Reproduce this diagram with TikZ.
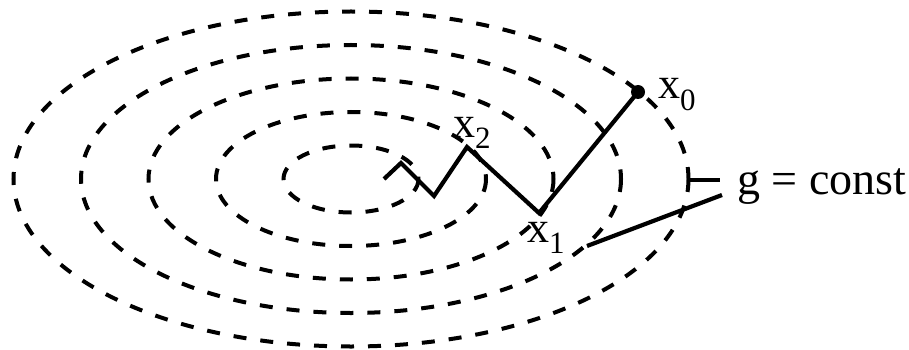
\documentclass[tikz,border=0pt]{standalone}
\usepackage{fontspec}
\setmainfont{Liberation Serif}
\begin{document}
\begin{tikzpicture}[x=1pt, y=-1pt,
        contour/.style={line width=4pt, dash pattern=on 13pt off 14pt},
        walk/.style={line width=4.2pt, line join=miter},
        lbl/.style={inner sep=0pt, anchor=base west, font=\fontsize{44}{48}\selectfont}]
    \useasboundingbox (0,0) rectangle (909,350);

    % Level sets of g
    \foreach \k in {1,...,5}
        \draw[contour] (351,179) ellipse ({67.5*\k} and {33.5*\k});

    % Steepest descent walk
    \coordinate (x0) at (638,92);
    \coordinate (x1) at (539,213);
    \coordinate (x2) at (467,147);
    \coordinate (p3) at (434,196);
    \coordinate (p4) at (401,163);
    \coordinate (p5) at (384,179);
    \draw[walk] (p5) -- (p4) -- (p3) -- (x2) -- (x1) -- (x0);
    \fill (x0) circle (7);

    \node[lbl] (l0) at ([shift={(20,7)}]x0) {x\raisebox{-0.27em}{\fontsize{31}{31}\selectfont 0}};
    \node[lbl] (l1) at ([shift={(-12,29)}]x1) {x\raisebox{-0.25em}{\fontsize{31}{31}\selectfont 1}};
    \node[lbl] (l2) at ([shift={(-14,-10)}]x2) {x\raisebox{-0.25em}{\fontsize{31}{31}\selectfont 2}};

    % Label for the contours
    \coordinate (c5) at (688.5,180);
    \coordinate (c4) at (587,246);
    \node[lbl, font=\fontsize{46}{50}\selectfont] (g) at (737,194) {g = const};
    \draw[walk] (c5) -- ([shift={(-17,-14)}]g.base west);
    \draw[walk] (c4) -- ([shift={(-15,1)}]g.base west);
\end{tikzpicture}
\end{document}
